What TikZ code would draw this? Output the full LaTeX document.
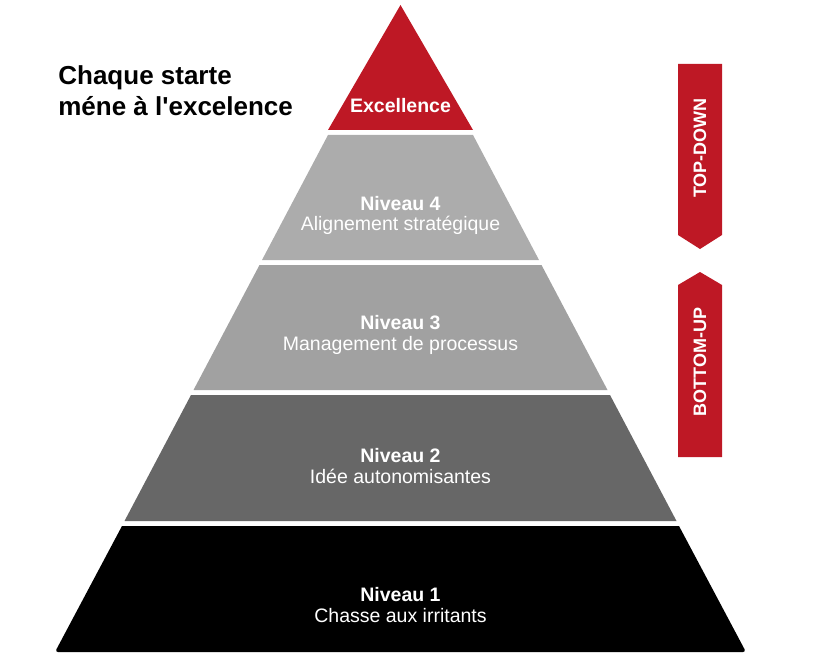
\documentclass[tikz,border=0pt]{standalone}
\usepackage{fontspec}
\setmainfont{Liberation Sans}
\definecolor{pyrred}{RGB}{190,24,37}
\definecolor{greyfour}{RGB}{172,172,172}
\definecolor{greythree}{RGB}{161,161,161}
\definecolor{greytwo}{RGB}{103,103,103}
\tikzset{every picture/.style={line width=0.75pt}}
\tikzset{
  band/.style={draw=none},
  lvltitle/.style={text=white,font=\fontsize{19.5}{21}\selectfont\bfseries,anchor=base,inner sep=0pt},
  lvltext/.style={text=white,font=\fontsize{19.5}{21}\selectfont,anchor=base,inner sep=0pt},
  sidetag/.style={text=white,font=\fontsize{18}{20}\selectfont\bfseries,rotate=90,inner sep=0pt}
}
\begin{document}
\begin{tikzpicture}[x=1pt,y=1pt,yscale=-1,xscale=1]
\useasboundingbox (0,0) rectangle (813,660);
%pyramid bands
\fill [pyrred] (400.5,5) -- (473,130) -- (328,130) -- cycle ;
\fill [greyfour] (328,135) -- (473,135) -- (539,260) -- (262,260) -- cycle ;
\fill [greythree] (259.5,265) -- (541.5,265) -- (607.5,390) -- (193.5,390) -- cycle ;
\fill [greytwo] (191,395) -- (610,395) -- (676.5,521) -- (124.5,521) -- cycle ;
\fill [black] (122,526) -- (679,526) [rounded corners=3pt] -- (746,652) -- (55,652) [sharp corners] -- cycle ;
%labels
\node [lvltitle] (exc) at (400.5,113) {Excellence};
\node [lvltitle] (n4) at (400.5,211) {Niveau 4};
\node [lvltext] (d4) at (400.5,231) {Alignement stratégique};
\node [lvltitle] (n3) at (400.5,329) {Niveau 3};
\node [lvltext] (d3) at (400.5,350) {Management de processus};
\node [lvltitle] (n2) at (400.5,462) {Niveau 2};
\node [lvltext] (d2) at (400.5,483) {Idée autonomisantes};
\node [lvltitle] (n1) at (400.5,601) {Niveau 1};
\node [lvltext] (d1) at (400.5,622) {Chasse aux irritants};
\node [anchor=base west,inner sep=0pt,align=left,font=\fontsize{26}{31}\selectfont\bfseries] (head) at (58,116) {Chaque starte\\méne à l\textquotesingle excelence};
%side arrows
\fill [pyrred] (678,64) -- (722,64) -- (722,235) -- (700,249) -- (678,235) -- cycle ;
\fill [pyrred] (700,272) -- (722,285) -- (722,457) -- (678,457) -- (678,285) -- cycle ;
\node [sidetag] (topdown) at (700,148) {TOP-DOWN};
\node [sidetag] (bottomup) at (700,362) {BOTTOM-UP};
\end{tikzpicture}
\end{document}
